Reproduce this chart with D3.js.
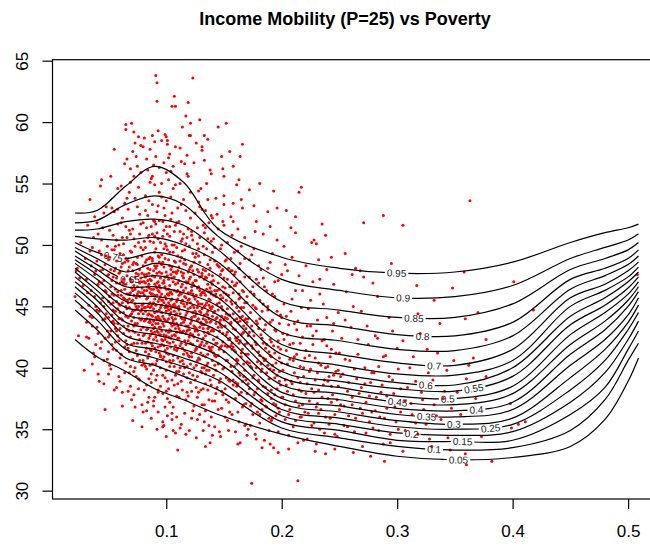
<!DOCTYPE html>
<html>
<head>
<meta charset="utf-8">
<script src="https://cdn.jsdelivr.net/npm/d3@7"></script>
<style>
  body { margin: 0; background: #fff; }
  svg { font-family: "Liberation Sans", Arial, Helvetica, sans-serif; }
</style>
</head>
<body>
<div id="chart"></div>
<script>
const knots = [0.021, 0.04, 0.065, 0.09, 0.115, 0.145, 0.2, 0.25, 0.3, 0.35, 0.4, 0.45, 0.48, 0.5, 0.509];

// fitted mobility per quantile
const q95 = [52.6, 52.8, 54.8, 56.4, 55.1, 51.3, 49.0, 48.1, 47.7, 47.8, 48.6, 50.2, 51.0, 51.4, 51.7];
const q90 = [51.8, 52.0, 53.3, 54.0, 53.3, 50.7, 47.2, 46.3, 45.7, 45.8, 46.7, 48.9, 49.8, 50.4, 50.9];
const q85 = [51.2, 51.3, 51.9, 52.1, 51.6, 49.6, 45.4, 44.7, 44.1, 44.1, 45.2, 48.0, 48.9, 49.6, 50.2];
const q80 = [50.7, 50.5, 50.4, 50.6, 50.0, 48.6, 44.1, 43.4, 42.7, 42.6, 43.7, 47.2, 48.1, 48.9, 49.6];
const q75 = [50.2, 49.4, 48.9, 49.4, 48.9, 47.5, 42.9, 42.2, 41.5, 41.4, 42.6, 46.4, 47.5, 48.4, 49.1];
const q70 = [49.8, 48.9, 47.8, 48.5, 48.0, 46.5, 41.9, 41.1, 40.4, 40.2, 41.5, 45.7, 46.8, 47.9, 48.6];
const q65 = [49.5, 48.4, 47.2, 47.5, 47.0, 45.7, 41.1, 40.2, 39.5, 39.4, 40.6, 45.0, 46.3, 47.4, 48.2];
const q60 = [49.1, 48.0, 46.6, 46.6, 46.1, 45.0, 40.4, 39.5, 38.8, 38.6, 40.0, 44.2, 45.7, 47.0, 47.8];
const q55 = [48.8, 47.6, 46.0, 45.8, 45.4, 44.3, 39.7, 38.9, 38.3, 38.1, 39.3, 43.5, 45.1, 46.5, 47.4];
const q50 = [48.5, 47.2, 45.4, 45.2, 44.7, 43.7, 39.2, 38.4, 37.7, 37.5, 38.5, 42.7, 44.5, 46.0, 47.0];
const q45 = [48.1, 46.7, 44.9, 44.6, 44.1, 43.0, 38.6, 37.9, 37.2, 37.0, 37.9, 41.9, 43.8, 45.5, 46.6];
const q40 = [47.8, 46.3, 44.3, 43.9, 43.4, 42.4, 38.0, 37.4, 36.7, 36.5, 37.2, 41.1, 43.1, 45.0, 46.2];
const q35 = [47.4, 45.9, 43.7, 43.2, 42.8, 41.7, 37.5, 36.9, 36.2, 36.0, 36.6, 40.2, 42.3, 44.3, 45.7];
const q30 = [47.0, 45.5, 43.2, 42.7, 42.1, 41.0, 37.1, 36.4, 35.7, 35.4, 35.9, 39.2, 41.5, 43.7, 45.1];
const q25 = [46.6, 45.0, 42.6, 42.0, 41.5, 40.4, 36.6, 35.9, 35.2, 35.0, 35.4, 38.2, 40.6, 43.1, 44.5];
const q20 = [46.1, 44.5, 42.0, 41.5, 40.8, 39.7, 36.1, 35.4, 34.7, 34.5, 34.8, 37.2, 39.6, 42.3, 43.8];
const q15 = [45.5, 43.9, 41.5, 40.8, 40.1, 39.0, 35.6, 34.9, 34.1, 34.0, 34.1, 36.2, 38.4, 41.5, 43.0];
const q10 = [44.7, 43.1, 40.8, 40.2, 39.3, 38.2, 35.1, 34.3, 33.6, 33.3, 33.5, 34.9, 37.4, 40.6, 42.0];
const q05 = [42.3, 40.9, 39.7, 38.3, 37.4, 36.2, 34.6, 33.6, 32.8, 32.5, 32.7, 33.6, 35.8, 38.9, 40.8];

const tauLabels = ["0.95", "0.9", "0.85", "0.8", "0.75", "0.7", "0.65", "0.6", "0.55", "0.5",
                   "0.45", "0.4", "0.35", "0.3", "0.25", "0.2", "0.15", "0.1", "0.05"];
// poverty value where each curve carries its label
const labelAt = [0.2995, 0.3052, 0.3145, 0.322, 0.0541, 0.332, 0.0686, 0.3248, 0.3664, 0.3439,
                 0.3004, 0.3687, 0.3255, 0.3491, 0.3809, 0.3125, 0.3567, 0.332, 0.3531];

// [poverty, mobility] per county, first batch
const counties1 = [
  [.021,45.8],[.023,48.1],[.024,42.6],[.025,47.3],[.026,50.2],[.027,44.9],[.028,46.7],[.029,39.8],[.030,48.9],[.031,43.7],[.032,51.6],[.032,46.1],[.033,42.4],[.034,49.5],[.034,53.7],[.022,47.9],[.031,42.5],
  [.035,46.3],[.036,44.1],[.036,49.8],[.037,41.2],[.038,47.6],[.038,52.3],[.039,45.0],[.040,48.7],[.040,43.3],[.041,50.9],[.041,46.8],[.042,38.9],[.042,44.6],[.043,47.9],[.043,54.8],[.044,49.2],[.044,42.1],[.045,45.7],[.045,51.4],[.046,47.1],[.046,40.6],[.047,44.0],[.047,48.4],[.048,46.2],[.048,53.1],[.049,43.0],[.049,49.9],[.039,41.9],[.044,55.3],[.047,36.6],[.038,40.9],
  [.050,45.4],[.050,48.8],[.051,42.7],[.051,51.2],[.052,46.6],[.052,39.9],[.053,44.3],[.053,49.6],[.054,47.4],[.054,41.5],[.055,52.7],[.055,45.9],[.056,43.2],[.056,48.1],[.057,50.4],[.057,46.9],[.057,38.4],[.058,44.8],[.058,54.6],[.059,47.7],[.059,42.2],[.060,49.3],[.060,45.1],[.060,40.8],[.061,51.8],[.061,46.3],[.062,43.9],[.062,48.5],[.062,36.9],[.063,44.5],[.063,50.1],[.063,47.2],[.064,41.7],[.064,53.4],[.064,45.6],[.052,55.6],[.055,57.8],[.058,43.6],[.053,46.0],[.059,39.3],[.061,44.0],[.056,49.9],[.054,44.7],[.060,47.8],[.062,52.2],[.050,41.3],[.058,45.9],[.063,42.8],[.057,43.0],[.065,48.9],[.050,39.5],[.055,38.2],
  [.065,44.2],[.065,46.8],[.066,41.9],[.066,50.6],[.066,47.5],[.067,43.4],[.067,45.3],[.067,52.9],[.068,39.6],[.068,48.2],[.068,44.9],[.069,46.1],[.069,42.5],[.069,55.1],[.070,49.4],[.070,43.8],[.070,47.0],[.071,40.7],[.071,45.5],[.071,51.3],[.072,44.1],[.072,48.6],[.072,37.8],[.073,46.4],[.073,42.9],[.073,53.8],[.073,49.9],[.074,45.0],[.074,41.4],[.074,47.7],[.075,43.6],[.075,56.4],[.075,46.6],[.076,50.2],[.076,44.4],[.076,39.1],[.077,48.0],[.077,45.8],[.077,42.3],[.078,51.7],[.078,47.3],[.078,43.1],[.079,45.1],[.079,49.1],[.079,40.2],[.070,59.9],[.072,59.2],[.074,57.2],[.066,57.0],[.068,54.3],[.076,54.7],[.078,58.1],[.080,36.4],[.069,38.5],[.071,43.0],[.073,44.7],[.075,41.0],[.077,46.9],[.079,44.0],[.067,48.7],[.069,50.9],[.071,47.9],[.073,40.0],[.075,48.4],[.077,52.5],[.079,46.5],[.066,44.8],[.068,46.0],[.070,45.4],[.072,42.0],[.074,43.5],[.076,46.2],[.078,44.6],[.080,48.3],[.080,42.6],[.071,35.7],[.079,35.2],[.065,59.8],[.065,59.4],[.073,58.3],[.080,58.0],
  [.080,45.2],[.081,43.8],[.081,47.6],[.081,40.3],[.082,49.8],[.082,44.6],[.082,42.0],[.083,46.3],[.083,51.4],[.083,38.6],[.084,45.7],[.084,43.2],[.084,48.1],[.085,53.6],[.085,41.1],[.085,46.8],[.085,44.4],[.086,50.3],[.086,42.6],[.086,47.2],[.087,45.0],[.087,39.5],[.087,55.4],[.088,48.7],[.088,43.5],[.088,46.0],[.088,41.8],[.089,52.0],[.089,44.8],[.089,47.9],[.090,42.9],[.090,45.6],[.090,49.4],[.090,37.6],[.091,46.6],[.091,44.1],[.091,57.2],[.092,40.6],[.092,48.3],[.092,43.0],[.092,51.0],[.093,45.4],[.093,47.0],[.093,41.7],[.094,44.0],[.094,49.0],[.094,54.3],[.094,46.2],[.081,58.7],[.084,56.1],[.086,57.8],[.088,58.9],[.091,63.8],[.092,63.2],[.092,61.7],[.090,58.4],[.093,59.3],[.087,35.9],[.089,36.9],[.093,38.2],[.082,46.9],[.083,44.0],[.084,50.6],[.086,45.3],[.087,43.0],[.088,50.9],[.089,42.3],[.090,47.4],[.091,41.3],[.092,45.9],[.093,53.2],[.094,42.7],[.080,47.0],[.082,52.8],[.085,48.9],[.087,46.4],[.089,39.8],[.091,49.7],[.093,43.6],[.095,44.9],[.083,41.6],[.086,40.2],[.088,44.2],[.090,51.9],[.092,46.9],[.094,47.8],[.081,45.9],[.085,42.4],[.089,45.3],[.095,40.9],[.092,35.0],[.084,37.2],
  [.095,46.5],[.095,43.3],[.096,48.4],[.096,41.9],[.096,45.1],[.097,50.7],[.097,44.2],[.097,39.4],[.098,47.1],[.098,42.7],[.098,53.0],[.099,45.8],[.099,43.9],[.099,48.9],[.100,41.2],[.100,46.4],[.100,44.6],[.100,55.9],[.101,42.1],[.101,49.6],[.101,47.5],[.102,44.0],[.102,38.3],[.102,45.9],[.103,51.5],[.103,43.1],[.103,46.7],[.104,40.4],[.104,48.0],[.104,44.8],[.105,42.6],[.105,52.6],[.105,46.0],[.106,43.7],[.106,47.8],[.106,36.8],[.107,45.2],[.107,50.0],[.107,41.5],[.108,44.3],[.108,48.6],[.108,54.9],[.109,42.9],[.109,46.2],[.109,39.7],[.110,45.6],[.110,49.1],[.096,58.5],[.098,56.7],[.101,58.2],[.103,57.4],[.105,61.3],[.107,62.1],[.108,61.3],[.099,59.0],[.104,56.0],[.097,35.6],[.101,36.1],[.106,34.9],[.095,41.0],[.097,46.9],[.099,41.4],[.100,49.9],[.102,42.5],[.103,48.3],[.104,45.5],[.105,39.0],[.106,45.0],[.108,41.8],[.109,51.8],[.110,43.4],[.096,44.5],[.098,45.3],[.100,43.0],[.102,47.2],[.104,43.6],[.106,49.4],[.108,46.8],[.110,40.8],[.097,42.2],[.099,52.4],[.101,44.9],[.103,40.1],[.105,44.1],[.107,47.4],[.109,44.4],[.095,50.2],[.098,40.9],[.100,38.1],[.103,45.1],[.107,43.5],[.098,35.3],[.100,34.4],[.108,34.7],[.100,58.8],[.101,58.5],
  [.110,46.9],[.111,42.4],[.111,48.2],[.111,44.7],[.112,40.5],[.112,46.1],[.112,51.1],[.113,43.6],[.113,45.3],[.113,38.9],[.114,49.5],[.114,44.0],[.114,41.6],[.115,47.3],[.115,53.7],[.115,43.0],[.116,45.8],[.116,40.0],[.116,48.8],[.117,42.8],[.117,46.5],[.117,37.4],[.118,44.5],[.118,50.6],[.118,41.2],[.119,47.0],[.119,43.4],[.119,55.6],[.120,45.6],[.120,39.6],[.120,48.0],[.121,42.0],[.121,44.9],[.121,52.2],[.122,46.3],[.122,40.9],[.122,43.8],[.123,49.3],[.123,45.1],[.123,36.5],[.124,42.5],[.124,47.6],[.124,44.2],[.112,57.9],[.114,59.6],[.116,56.6],[.119,61.6],[.120,58.9],[.121,58.9],[.121,59.9],[.123,63.6],[.118,57.3],[.113,35.4],[.117,34.6],[.122,35.9],[.111,45.0],[.112,43.0],[.113,50.3],[.114,46.8],[.115,41.1],[.116,43.9],[.117,48.4],[.118,39.2],[.119,45.5],[.120,43.1],[.121,47.4],[.122,50.8],[.123,41.9],[.124,45.8],[.111,39.7],[.113,47.8],[.115,45.2],[.117,44.3],[.119,42.2],[.121,40.3],[.123,46.9],[.125,43.3],[.125,49.0],[.110,33.3],[.108,58.0],
  [.125,44.6],[.126,41.5],[.126,47.1],[.126,43.2],[.127,50.1],[.127,45.4],[.127,39.3],[.128,42.7],[.128,46.6],[.128,44.0],[.129,48.6],[.129,40.7],[.129,53.1],[.130,43.7],[.130,45.9],[.130,38.2],[.131,47.7],[.131,42.1],[.131,44.8],[.132,51.6],[.132,41.0],[.132,46.2],[.133,43.5],[.133,49.2],[.133,37.0],[.134,45.1],[.134,42.6],[.134,47.9],[.135,40.2],[.135,44.4],[.135,55.0],[.136,46.8],[.136,42.9],[.136,50.5],[.137,39.8],[.137,45.6],[.137,43.3],[.138,48.1],[.138,41.4],[.138,44.9],[.139,46.0],[.139,38.6],[.139,52.4],[.129,60.2],[.131,58.0],[.131,57.7],[.136,58.6],[.133,56.9],[.138,56.1],[.127,35.8],[.132,34.9],[.137,35.3],[.126,45.9],[.128,49.7],[.130,41.9],[.132,44.0],[.134,39.5],[.136,44.3],[.138,46.5],[.127,43.0],[.129,45.2],[.131,40.0],[.133,46.1],[.135,47.3],[.137,41.7],[.139,43.8],[.140,45.0],[.140,40.6],[.134,52.8],[.128,38.0],[.134,33.6],
  [.140,47.5],[.141,42.3],[.141,44.5],[.141,39.4],[.142,46.3],[.142,49.8],[.142,41.0],[.143,43.6],[.143,45.8],[.143,37.9],[.144,48.4],[.144,42.5],[.144,44.1],[.145,40.3],[.145,46.9],[.145,51.3],[.146,43.0],[.146,38.8],[.146,45.3],[.147,41.7],[.147,47.6],[.147,43.9],[.148,36.7],[.148,45.0],[.148,50.0],[.149,42.1],[.149,44.7],[.149,39.9],[.150,46.1],[.150,41.3],[.150,53.3],[.151,43.4],[.151,48.7],[.152,40.6],[.152,45.5],[.152,37.4],[.153,42.9],[.153,47.2],[.154,44.3],[.154,39.0],[.145,59.6],[.148,57.2],[.152,59.9],[.150,55.6],[.142,35.2],[.147,34.4],[.153,35.7],[.141,45.9],[.143,40.9],[.145,43.3],[.147,45.9],[.149,48.0],[.151,41.8],[.153,44.8],[.155,42.4],[.140,34.5],[.149,56.2],
  [.155,46.6],[.156,40.1],[.156,43.7],[.156,48.9],[.157,42.0],[.157,45.2],[.158,38.6],[.158,44.4],[.158,51.9],[.159,41.4],[.159,46.7],[.160,43.1],[.160,37.5],[.160,47.8],[.161,40.7],[.161,44.9],[.162,42.5],[.162,49.5],[.162,36.4],[.163,45.6],[.163,39.6],[.164,43.8],[.164,47.0],[.165,41.2],[.165,38.0],[.165,53.7],[.166,44.2],[.166,42.8],[.167,46.2],[.167,39.3],[.168,41.9],[.168,50.6],[.169,44.0],[.169,37.1],[.158,56.4],[.163,55.3],[.166,58.2],[.160,34.8],[.164,33.9],[.168,35.3],[.157,47.9],[.161,42.2],[.163,42.0],[.167,43.4],[.170,40.5],[.164,57.2],
  [.170,45.3],[.171,38.7],[.171,42.6],[.172,47.4],[.172,40.4],[.173,44.5],[.173,36.9],[.174,41.8],[.174,49.2],[.175,43.0],[.175,39.2],[.176,46.0],[.176,37.8],[.177,42.1],[.177,51.1],[.178,40.0],[.178,44.8],[.179,38.3],[.179,43.6],[.180,46.9],[.180,41.3],[.181,36.2],[.181,44.0],[.182,39.7],[.182,48.0],[.183,42.4],[.183,37.3],[.184,45.2],[.184,40.8],[.174,30.6],[.172,54.5],[.176,53.2],[.181,55.0],[.178,34.2],[.183,33.5],[.171,35.0],[.175,46.6],[.180,38.9],
  [.185,43.1],[.186,38.4],[.186,41.6],[.187,46.3],[.187,36.8],[.188,40.2],[.188,44.7],[.189,39.1],[.190,42.3],[.190,48.6],[.191,37.5],[.191,40.9],[.192,43.9],[.192,35.9],[.193,39.8],[.194,45.8],[.194,41.2],[.195,37.0],[.195,43.0],[.196,39.4],[.197,47.1],[.197,41.7],[.198,36.4],[.198,38.9],[.199,44.3],[.188,52.7],[.193,54.4],[.196,53.0],[.190,33.8],[.197,33.1],
  [.200,40.4],[.201,42.8],[.201,37.6],[.202,45.2],[.203,39.0],[.203,35.8],[.204,41.4],[.205,47.9],[.205,38.1],[.206,43.5],[.207,36.6],[.207,40.7],[.208,44.6],[.209,38.7],[.210,42.0],[.210,35.2],[.211,39.6],[.212,46.3],[.212,37.3],[.213,41.1],[.214,30.8],[.214,43.8],[.215,38.2],[.216,36.0],[.216,40.1],[.217,44.9],[.218,37.0],[.218,42.5],[.219,39.3],[.202,49.9],[.208,51.4],[.212,52.3],[.215,54.3],[.206,33.4],[.219,34.1],[.217,54.7],[.204,52.8],
  [.220,40.8],[.221,37.9],[.222,43.4],[.223,36.3],[.224,39.7],[.225,45.5],[.226,38.3],[.227,41.9],[.228,35.5],[.229,39.0],[.230,43.0],[.231,37.1],[.232,40.4],[.233,47.2],[.234,36.6],[.235,42.2],[.236,38.6],[.237,34.7],[.238,40.0],[.239,44.1],[.240,37.5],[.241,39.3],[.242,35.9],[.243,41.5],[.244,37.8],[.245,43.6],[.246,36.2],[.247,39.7],[.248,34.4],[.249,38.5],[.226,50.2],[.232,48.8],[.238,50.8],[.243,49.0],[.229,33.2],[.228,50.4],[.230,50.1],
  [.250,41.2],[.251,37.0],[.253,39.5],[.254,35.3],[.255,43.9],[.257,38.1],[.258,36.1],[.259,40.6],[.261,37.6],[.262,45.0],[.263,34.8],[.265,39.1],[.266,42.3],[.268,36.7],[.269,38.4],[.270,33.6],[.272,40.0],[.273,37.2],[.274,43.4],[.276,35.6],[.277,38.8],[.255,49.3],[.264,48.1],[.271,47.4],[.278,36.4],[.271,51.8],[.261,47.6],[.279,46.9],
  [.280,39.6],[.281,36.5],[.283,42.4],[.284,34.9],[.286,38.0],[.288,40.9],[.289,35.9],[.291,37.7],[.293,44.1],[.294,33.9],[.296,39.0],[.298,36.8],[.300,41.6],[.301,35.0],[.303,38.3],[.305,33.2],[.288,52.4],[.307,37.3],[.305,51.6],
  [.311,40.0],[.313,36.2],[.316,38.9],[.318,34.6],[.320,42.8],[.322,37.4],[.325,35.4],[.327,39.6],[.330,33.6],[.332,37.0],[.335,41.2],[.338,35.8],[.341,38.1],[.344,34.3],[.347,36.7],[.317,46.7],[.332,45.5],
  [.358,47.8],[.401,47.0],[.418,44.7],[.377,42.3],[.366,40.8],[.362,40.2],[.377,39.3],[.360,39.1],[.398,37.1],[.411,35.6],[.405,35.4],[.399,35.1],[.382,32.4],[.360,32.1],[.359,33.0],[.508,47.6],[.363,53.6],[.348,46.5],[.370,44.5],[.359,44.0],[.352,38.0],[.355,36.2],[.368,37.5],[.373,34.4]
];

// second batch, mostly the dense core
const counties2 = [
  [.031,47.2],[.033,45.1],[.035,48.3],[.036,43.4],[.037,50.6],[.038,45.8],[.039,47.9],[.040,44.7],[.040,51.8],[.041,42.8],[.042,47.0],[.042,49.5],[.043,45.3],[.043,41.6],[.044,46.9],[.044,50.4],[.045,43.9],[.045,48.0],[.046,45.0],[.046,52.6],[.047,42.4],[.047,46.3],[.048,49.1],[.048,44.4],[.049,47.5],[.049,40.7],[.034,44.2],[.036,40.3],[.041,39.5],[.046,38.7],
  [.050,44.1],[.050,47.6],[.051,45.8],[.051,49.0],[.052,43.0],[.052,48.0],[.053,41.9],[.053,47.1],[.054,45.3],[.054,50.8],
  [.055,43.6],[.055,47.9],[.056,44.6],[.056,46.4],[.057,41.4],[.057,48.7],[.058,46.2],[.058,42.6],[.059,50.0],[.059,45.2],
  [.060,43.2],[.060,46.9],[.061,48.2],[.061,41.1],[.062,45.3],[.062,47.0],[.063,43.4],[.063,49.2],[.064,46.4],[.064,39.6],
  [.065,45.0],[.065,51.5],[.066,43.1],[.066,46.0],[.067,41.6],[.067,47.9],[.068,45.6],[.068,43.0],[.069,49.5],[.069,44.3],
  [.070,46.5],[.070,41.9],[.071,48.4],[.071,44.6],[.072,45.9],[.072,50.5],[.073,43.6],[.073,47.4],[.074,39.3],[.074,45.7],
  [.075,44.8],[.075,49.0],[.076,42.7],[.076,47.6],[.077,44.0],[.077,40.6],[.078,46.1],[.078,49.8],[.079,42.0],[.079,47.7],
  [.050,42.5],[.051,40.2],[.052,45.2],[.053,53.0],[.054,43.8],[.055,49.6],[.056,42.1],[.057,45.4],[.058,51.7],[.059,44.0],
  [.060,38.9],[.061,45.9],[.062,50.6],[.063,45.7],[.064,48.6],[.065,42.2],[.066,48.8],[.067,44.1],[.068,51.2],[.069,40.1],
  [.070,44.4],[.071,46.3],[.072,43.4],[.073,45.2],[.074,48.5],[.075,42.0],[.076,45.0],[.077,50.9],[.078,43.9],[.079,44.8],
  [.066,53.8],[.069,56.2],[.072,55.6],[.075,53.1],[.078,55.9],[.061,54.8],[.064,56.6],[.058,52.9],[.071,57.6],[.076,58.8],
  [.067,38.1],[.070,37.4],[.073,36.8],[.076,38.3],[.079,37.0],[.062,38.0],[.065,40.4],[.068,41.3],[.072,39.7],[.077,39.0],
  [.053,43.7],[.057,47.3],[.060,44.5],[.063,46.8],[.066,45.5],[.069,47.2],[.072,46.7],[.075,46.0],[.078,47.0],[.080,44.4],
  [.080,43.3],[.080,49.6],[.081,44.9],[.081,46.3],[.082,41.3],[.082,47.4],[.083,43.1],[.083,48.8],[.084,45.0],[.084,40.8],
  [.085,47.7],[.085,43.7],[.086,44.9],[.086,49.0],[.087,42.0],[.087,46.0],[.088,47.5],[.088,40.3],[.089,43.8],[.089,50.2],
  [.090,44.5],[.090,46.8],[.091,42.5],[.091,48.1],[.092,44.6],[.092,39.4],[.093,46.3],[.093,50.5],[.094,43.3],[.094,45.6],
  [.095,41.8],[.095,47.3],[.096,43.0],[.096,49.2],[.097,45.5],[.097,40.7],[.098,44.0],[.098,48.2],[.099,42.3],[.099,46.6],
  [.100,45.1],[.100,39.8],[.101,43.8],[.101,50.9],[.102,46.4],[.102,42.9],[.103,44.3],[.103,49.4],[.104,41.7],[.104,46.2],
  [.105,43.4],[.105,47.3],[.106,41.0],[.106,45.1],[.107,48.7],[.107,42.7],[.108,45.0],[.108,39.4],[.109,47.7],[.109,43.6],
  [.110,41.6],[.110,46.3],[.080,51.8],[.082,54.0],[.084,52.4],[.086,55.1],[.088,53.3],[.090,54.9],[.092,52.7],[.094,56.3],
  [.096,53.9],[.098,51.2],[.100,53.6],[.102,55.3],[.104,52.1],[.106,54.6],[.108,51.6],[.110,53.0],[.083,57.0],[.089,56.5],
  [.081,38.2],[.083,39.9],[.085,37.6],[.087,38.8],[.089,37.3],[.091,39.0],[.093,36.4],[.095,38.5],[.097,37.9],[.099,36.8],
  [.101,38.9],[.103,37.2],[.105,36.3],[.107,38.6],[.109,36.0],[.082,43.9],[.084,42.1],[.086,46.1],[.088,45.2],[.090,41.6],
  [.092,47.7],[.094,44.7],[.096,46.0],[.098,43.4],[.100,47.8],[.102,41.1],[.104,44.5],[.106,47.0],[.108,43.2],[.110,44.9],
  [.081,47.0],[.083,45.6],[.085,45.2],[.087,44.3],[.089,46.4],[.091,45.1],[.093,44.2],[.095,45.8],[.097,43.6],[.099,44.9],
  [.101,46.0],[.103,42.0],[.105,45.6],[.107,44.6],[.109,45.4],[.080,40.6],[.082,44.9],[.084,47.1],[.086,43.7],[.088,48.9],
  [.090,43.3],[.092,42.2],[.094,48.6],[.096,42.3],[.098,46.9],[.100,42.6],[.102,48.8],[.104,43.0],[.106,43.9],[.108,47.8],
  [.110,42.4],[.081,50.3],[.085,50.8],[.087,51.5],[.091,51.7],[.093,49.1],[.097,51.9],[.099,50.1],[.103,50.7],[.105,50.0],
  [.107,51.1],[.109,49.8],[.084,46.6],[.086,41.5],[.088,42.8],[.090,45.9],[.092,44.0],[.094,41.2],[.096,47.7],[.098,41.8],
  [.100,45.6],[.102,44.7],[.104,47.6],[.106,42.1],[.108,44.0],[.082,40.1],[.087,41.4],[.091,40.3],[.095,40.0],[.099,39.2],
  [.103,40.6],[.107,40.1],[.110,38.7],[.085,39.1],[.093,38.0],[.101,37.5],[.109,37.7],[.083,36.5],[.097,35.2],[.105,35.8],
  [.081,42.7],[.084,44.3],[.087,47.1],[.090,48.3],[.093,42.9],[.096,45.5],[.099,47.4],[.102,45.3],[.105,48.2],[.108,42.6],
  [.082,48.6],[.086,48.0],[.089,43.2],[.092,46.5],[.095,43.9],[.098,49.7],[.101,41.6],[.104,42.4],[.107,46.3],[.110,47.9],
  [.080,46.1],[.085,46.5],[.090,50.7],[.094,52.0],[.100,51.5],[.104,53.9],[.088,55.6],[.096,55.0],[.102,57.1],[.106,56.4],
  [.083,47.6],[.086,43.9],[.091,43.6],[.094,46.7],[.097,48.6],[.100,40.5],[.103,46.1],[.106,40.6],[.109,41.4],[.095,42.7],
  [.111,43.2],[.111,47.1],[.112,44.4],[.112,41.8],[.113,46.0],[.113,49.0],[.114,42.9],[.114,45.5],[.115,40.3],[.115,47.7],
  [.116,44.1],[.116,42.2],[.117,45.7],[.117,50.1],[.118,43.0],[.118,46.9],[.119,41.0],[.119,44.8],[.120,47.2],[.120,42.5],
  [.121,45.3],[.121,38.8],[.122,44.1],[.122,48.3],[.123,42.7],[.123,46.0],[.124,40.0],[.124,44.9],[.125,47.1],[.125,41.4],
  [.126,44.4],[.126,49.3],[.127,42.2],[.127,46.5],[.128,40.8],[.128,45.2],[.129,43.3],[.129,47.4],[.130,41.2],[.130,44.5],
  [.131,46.1],[.131,39.6],[.132,43.2],[.132,48.0],[.133,41.8],[.133,45.0],[.134,43.9],[.134,38.7],[.135,46.4],[.135,42.0],
  [.136,44.6],[.136,40.4],[.137,47.6],[.137,42.8],[.138,45.5],[.138,39.0],[.139,43.0],[.139,47.0],[.140,41.7],[.140,44.2],
  [.111,51.9],[.113,53.3],[.115,50.9],[.117,52.8],[.119,51.3],[.121,54.3],[.123,50.4],[.125,52.6],[.127,51.4],[.129,50.6],
  [.131,52.9],[.133,51.0],[.135,49.7],[.137,51.8],[.139,50.3],[.112,55.0],[.118,55.8],[.124,56.7],[.130,54.6],[.136,53.7],
  [.111,37.6],[.114,38.2],[.116,36.3],[.119,37.7],[.122,38.1],[.124,36.9],[.127,37.6],[.129,36.2],[.132,38.3],[.134,36.5],
  [.137,37.4],[.139,36.0],[.112,35.1],[.120,34.9],[.126,34.3],[.133,35.6],[.138,33.9],[.115,39.5],[.125,39.0],[.135,39.8],
  [.111,45.9],[.113,44.1],[.115,46.3],[.117,43.4],[.119,47.8],[.121,43.6],[.123,44.5],[.125,45.6],[.127,43.9],[.129,44.6],
  [.131,43.5],[.133,47.2],[.135,43.7],[.137,45.1],[.139,44.8],[.112,42.9],[.114,47.5],[.116,41.4],[.118,45.2],[.120,40.9],
  [.122,46.6],[.124,43.4],[.126,41.6],[.128,47.8],[.130,46.0],[.132,42.4],[.134,45.9],[.136,41.1],[.138,43.7],[.140,46.8],
  [.112,48.7],[.116,49.6],[.120,49.9],[.124,48.6],[.128,49.1],[.132,49.9],[.136,48.4],[.140,49.4],[.114,40.6],[.118,40.1],
  [.122,41.2],[.126,40.2],[.130,39.7],[.134,40.9],[.138,41.6],[.113,42.0],[.117,41.9],[.121,42.8],[.125,43.0],[.129,41.8],
  [.133,42.9],[.137,44.0],[.111,44.8],[.115,43.7],[.119,46.1],[.123,47.9],[.127,44.9],[.131,45.2],[.135,45.3],[.139,46.2],
  [.113,46.6],[.117,47.0],[.121,46.1],[.125,44.2],[.129,46.3],[.133,44.3],[.137,46.2],[.140,43.1],[.116,45.0],[.124,46.7],
  [.114,50.5],[.122,51.1],[.128,53.5],[.134,51.4],[.140,52.2],[.118,38.0],[.126,38.4],[.131,37.0],[.136,38.2],[.140,37.3],
  [.112,40.0],[.119,43.1],[.123,39.4],[.127,40.6],[.130,43.6],[.133,40.0],[.136,43.2],[.139,41.4],[.115,48.5],[.121,48.2],
  [.127,48.0],[.131,47.5],[.134,47.4],[.138,48.8],[.113,56.8],[.126,58.3],[.133,58.9],[.117,60.5],[.139,55.8],[.128,54.4],
  [.141,43.0],[.141,47.1],[.142,44.6],[.142,40.2],[.143,46.0],[.143,42.0],[.144,45.2],[.144,38.4],[.145,44.7],[.145,48.3],
  [.146,41.5],[.146,46.4],[.147,43.5],[.147,39.1],[.148,44.2],[.148,47.9],[.149,42.8],[.149,45.7],[.150,40.0],[.150,43.9],
  [.151,46.5],[.151,38.3],[.152,42.7],[.152,48.8],[.153,44.0],[.153,40.6],[.154,45.9],[.154,42.3],[.155,44.3],[.155,38.9],
  [.156,45.4],[.156,41.8],[.157,47.0],[.157,39.7],[.158,43.2],[.158,46.1],[.159,40.1],[.159,43.9],[.160,45.3],[.160,41.3],
  [.161,38.5],[.161,46.9],[.162,43.7],[.162,40.6],[.163,44.6],[.163,37.8],[.164,42.2],[.164,48.5],[.165,44.9],[.165,40.9],
  [.166,46.3],[.166,38.9],[.167,42.9],[.167,44.9],[.168,39.8],[.168,47.4],[.169,43.2],[.169,41.1],[.170,45.8],[.170,37.9],
  [.141,50.5],[.144,52.5],[.147,49.7],[.150,51.6],[.153,50.2],[.156,52.3],[.159,49.4],[.162,51.3],[.165,49.9],[.168,48.9],
  [.142,37.3],[.145,36.6],[.148,38.1],[.151,36.0],[.154,37.2],[.157,36.2],[.160,38.8],[.163,35.6],[.166,36.8],[.169,35.4],
  [.143,44.0],[.146,43.7],[.149,46.6],[.152,44.4],[.155,42.3],[.158,41.7],[.161,44.0],[.164,45.7],[.167,40.3],[.170,43.7],
  [.141,41.2],[.144,42.0],[.147,45.6],[.150,47.3],[.153,41.7],[.156,43.6],[.159,47.6],[.162,38.7],[.165,42.7],[.168,45.3],
  [.142,48.7],[.145,41.0],[.148,41.8],[.151,44.1],[.154,48.1],[.157,41.5],[.160,42.4],[.163,46.0],[.166,41.5],[.169,39.0],
  [.143,39.8],[.146,48.2],[.149,37.8],[.152,46.0],[.155,36.4],[.158,39.0],[.161,40.3],[.164,39.4],[.167,37.0],[.170,42.0],
  [.144,46.3],[.148,43.3],[.152,39.2],[.156,47.9],[.160,46.7],[.164,44.1],[.168,43.9],[.150,54.0],[.158,53.4],[.166,53.0],
  [.146,34.8],[.154,34.9],[.162,33.8],[.170,34.5],[.143,53.8],[.149,51.9],[.155,57.6],[.161,54.9],[.157,50.8],[.163,48.1],
  [.171,41.1],[.171,44.0],[.172,38.3],[.172,42.9],[.173,46.2],[.173,40.1],[.174,43.4],[.174,37.1],[.175,41.6],[.175,45.1],
  [.176,39.4],[.176,42.6],[.177,44.9],[.177,38.0],[.178,41.9],[.178,47.2],[.179,40.5],[.179,36.4],[.180,43.2],[.180,39.0],
  [.181,45.5],[.181,41.0],[.182,37.4],[.182,42.7],[.183,39.9],[.183,44.6],[.184,38.5],[.184,42.0],[.185,40.6],[.185,46.6],
  [.186,36.9],[.186,43.5],[.187,39.6],[.187,41.9],[.188,37.9],[.188,45.0],[.189,41.3],[.189,35.9],[.190,39.9],[.190,43.7],
  [.191,38.2],[.191,42.1],[.192,40.2],[.192,46.0],[.193,37.1],[.193,41.8],[.194,39.2],[.194,43.1],[.195,36.1],[.195,40.4],
  [.196,44.6],[.196,38.3],[.197,42.2],[.197,36.7],[.198,40.8],[.198,43.6],[.199,38.6],[.199,41.5],[.200,37.6],[.200,44.1],
  [.172,48.8],[.176,49.7],[.180,48.3],[.184,50.9],[.188,48.1],[.192,49.3],[.196,50.4],[.200,47.6],[.178,51.9],[.190,51.5],
  [.173,35.3],[.177,34.6],[.181,35.5],[.185,34.1],[.189,34.9],[.193,33.5],[.197,34.8],[.175,36.2],[.183,36.6],[.191,35.7],
  [.174,40.0],[.178,43.8],[.182,40.3],[.186,40.7],[.190,41.0],[.194,37.8],[.198,39.7],[.176,45.9],[.184,47.3],[.194,47.0],
  [.201,39.8],[.202,42.3],[.203,37.0],[.204,44.2],[.205,40.3],[.206,36.2],[.207,41.9],[.208,38.9],[.209,45.6],[.210,37.8],
  [.211,40.9],[.212,35.7],[.213,43.1],[.214,39.2],[.215,36.9],[.216,42.0],[.217,38.1],[.218,46.3],[.219,40.0],[.220,36.4],
  [.221,41.4],[.222,38.7],[.223,44.8],[.224,37.3],[.225,39.9],[.226,35.3],[.227,42.6],[.228,38.0],[.229,40.8],[.230,36.8],
  [.231,43.9],[.232,38.2],[.233,35.0],[.234,40.2],[.235,37.6],[.236,45.2],[.237,39.0],[.238,36.0],[.239,41.8],[.240,38.9],
  [.241,35.4],[.242,40.9],[.243,37.2],[.244,43.0],[.245,39.4],[.246,34.6],[.247,41.2],[.248,37.4],[.249,44.5],[.250,36.6],
  [.203,48.4],[.209,49.0],[.215,47.5],[.221,48.3],[.227,47.0],[.233,46.0],[.239,48.0],[.245,46.8],[.206,34.5],[.214,33.9],
  [.222,34.2],[.230,33.8],[.238,33.0],[.246,33.4],[.204,38.6],[.210,40.6],[.216,38.8],[.224,41.0],[.232,36.3],[.240,40.1],
  [.205,42.7],[.211,43.6],[.217,36.0],[.225,43.4],[.231,39.6],[.237,42.3],[.243,38.5],[.249,39.8],[.212,51.0],[.235,51.7],
  [.251,39.3],[.252,42.4],[.254,36.9],[.255,40.7],[.257,35.2],[.258,38.8],[.260,43.3],[.261,37.0],[.263,39.9],[.264,35.9],
  [.266,41.1],[.267,37.9],[.269,44.6],[.270,36.3],[.272,38.7],[.273,34.7],[.275,41.9],[.276,37.7],[.278,39.6],[.279,35.1],
  [.281,42.6],[.282,37.6],[.284,40.1],[.285,36.0],[.287,38.6],[.288,33.8],[.290,41.0],[.291,36.7],[.293,39.3],[.294,34.6],
  [.296,43.0],[.297,37.9],[.299,35.6],[.256,46.2],[.268,47.9],[.283,45.8],[.295,48.5],[.262,33.1],[.277,32.8],[.289,32.4],
  [.301,39.9],[.303,36.4],[.305,42.2],[.307,34.9],[.309,38.4],[.312,37.1],[.314,40.9],[.316,35.5],[.318,44.4],[.321,38.0],
  [.323,36.6],[.326,41.5],[.328,34.2],[.331,39.0],[.334,36.1],[.337,43.6],[.340,37.5],[.343,39.8],[.346,33.3],[.349,40.6]
];

const counties = counties1.concat(counties2);

const xTicks = [0.1, 0.2, 0.3, 0.4, 0.5];
const yTicks = [30, 35, 40, 45, 50, 55, 60, 65];

const curves = [q95, q90, q85, q80, q75, q70, q65, q60, q55, q50, q45, q40, q35, q30, q25, q20, q15, q10, q05];

const width = 650, height = 546;
const svg = d3.select("#chart").append("svg")
  .attr("width", width).attr("height", height);

const x = d3.scaleLinear().domain([0.0015, 0.5285]).range([52.5, 661]);
const y = d3.scaleLinear().domain([29.32, 65.08]).range([499, 59.7]);

// title
svg.append("text")
  .attr("x", 345).attr("y", 25)
  .attr("text-anchor", "middle")
  .style("font-weight", "bold").style("font-size", "18px")
  .text("Income Mobility (P=25) vs Poverty");

// points
svg.append("g").selectAll("circle")
  .data(counties).enter().append("circle")
  .attr("cx", d => x(d[0])).attr("cy", d => y(d[1]))
  .attr("r", 1.5).attr("fill", "#ff0000");

// quantile curves
const line = d3.line()
  .x((d, i) => x(knots[i])).y(d => y(d))
  .curve(d3.curveCatmullRom.alpha(0.5));

const defs = svg.append("defs");
const curveG = svg.append("g");
const labelG = svg.append("g");

curves.forEach((vals, k) => {
  const path = curveG.append("path")
    .attr("d", line(vals))
    .attr("fill", "none").attr("stroke", "#000").attr("stroke-width", 1.2);

  // find the point on the curve at the label's poverty value
  const node = path.node();
  const total = node.getTotalLength();
  const px = x(labelAt[k]);
  let lo = 0, hi = total;
  for (let it = 0; it < 40; it++) {
    const mid = (lo + hi) / 2;
    if (node.getPointAtLength(mid).x < px) lo = mid; else hi = mid;
  }
  const p = node.getPointAtLength(lo);
  const a = node.getPointAtLength(Math.max(0, lo - 3));
  const b = node.getPointAtLength(Math.min(total, lo + 3));
  const ang = Math.atan2(b.y - a.y, b.x - a.x) * 180 / Math.PI;

  const txt = labelG.append("text")
    .attr("transform", `translate(${p.x},${p.y}) rotate(${ang})`)
    .attr("text-anchor", "middle").attr("dy", "0.35em")
    .style("font-size", "10px").attr("fill", "#222")
    .text(tauLabels[k]);
  const w = txt.node().getComputedTextLength() + 4;

  const mask = defs.append("mask").attr("id", "gap" + k)
    .attr("maskUnits", "userSpaceOnUse")
    .attr("x", 0).attr("y", 0).attr("width", width).attr("height", height);
  mask.append("rect").attr("width", width).attr("height", height).attr("fill", "#fff");
  mask.append("rect")
    .attr("x", -w / 2).attr("y", -5).attr("width", w).attr("height", 10)
    .attr("transform", `translate(${p.x},${p.y}) rotate(${ang})`)
    .attr("fill", "#000");
  path.attr("mask", `url(#gap${k})`);
});

// box
svg.append("rect")
  .attr("x", 52.5).attr("y", 59.7)
  .attr("width", 661 - 52.5).attr("height", 499 - 59.7)
  .attr("fill", "none").attr("stroke", "#000").attr("stroke-width", 1.2);

// axes
const xAxis = svg.append("g")
  .attr("transform", "translate(0,499)")
  .call(d3.axisBottom(x).tickValues(xTicks).tickSize(10).tickFormat(d3.format(".1f")));
xAxis.select(".domain").remove();
xAxis.selectAll("line").attr("stroke", "#000").attr("stroke-width", 1.2);
xAxis.selectAll("text")
  .attr("y", 38).attr("dy", null)
  .style("font-size", "17px").attr("fill", "#000");

const yAxis = svg.append("g")
  .attr("transform", "translate(52.5,0)")
  .call(d3.axisLeft(y).tickValues(yTicks).tickSize(10));
yAxis.select(".domain").remove();
yAxis.selectAll("line").attr("stroke", "#000").attr("stroke-width", 1.2);
yAxis.selectAll("text")
  .attr("transform", "rotate(-90)")
  .attr("x", 0).attr("y", -24.5).attr("dy", null)
  .attr("text-anchor", "middle")
  .style("font-size", "17px").attr("fill", "#000");
</script>
</body>
</html>
